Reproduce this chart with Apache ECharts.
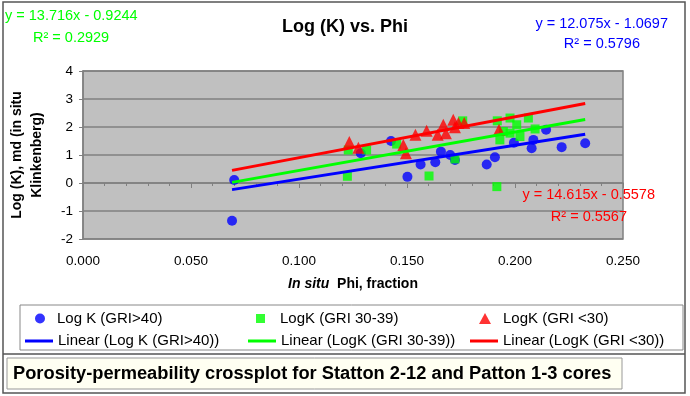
<!DOCTYPE html>
<html>
<head>
<meta charset="utf-8">
<script src="https://cdn.jsdelivr.net/npm/echarts@6/dist/echarts.min.js"></script>
<style>
  html, body { margin: 0; padding: 0; background: #fff; }
  #chart { width: 690px; height: 396px; }
</style>
</head>
<body>
<div id="chart"></div>
<script>
// phi (fraction), log K (md)
const griHigh = [
  [0.069, -1.35], [0.070, 0.11], [0.1286, 1.06], [0.1426, 1.50], [0.1502, 0.22],
  [0.1563, 0.66], [0.1631, 0.74], [0.1657, 1.12], [0.170, 1.00], [0.1722, 0.82],
  [0.1869, 0.66], [0.1907, 0.92], [0.1995, 1.44], [0.2077, 1.24], [0.2085, 1.54],
  [0.2144, 1.90], [0.2216, 1.28], [0.2325, 1.42]
];
const griMid = [
  [0.1224, 0.24], [0.1228, 1.18], [0.1313, 1.18], [0.1452, 1.39], [0.1602, 0.25],
  [0.1722, 0.86], [0.1758, 2.22], [0.1916, -0.13], [0.1918, 2.22], [0.1930, 1.54],
  [0.1946, 1.84], [0.1977, 2.32], [0.1977, 1.78], [0.2008, 2.08], [0.2023, 1.66],
  [0.2062, 2.32], [0.2093, 1.93]
];
const griLow = [
  [0.1233, 1.46], [0.1275, 1.26], [0.1483, 1.36], [0.1495, 1.06], [0.1539, 1.72],
  [0.1591, 1.87], [0.1642, 1.72], [0.1668, 2.08], [0.1680, 1.78], [0.1714, 2.26],
  [0.1722, 1.99], [0.1738, 2.14], [0.1765, 2.14], [0.1926, 1.90]
];

// trendline end points
const trendHigh = [[0.069, -0.237], [0.2325, 1.738]];
const trendMid = [[0.069, 0.022], [0.2325, 2.265]];
const trendLow = [[0.069, 0.451], [0.2325, 2.840]];

const seriesNames = ["Log K (GRI>40)", "LogK (GRI 30-39)", "LogK (GRI <30)"];
const trendNames = ["Linear (Log K (GRI>40))", "Linear (LogK (GRI 30-39))", "Linear (LogK (GRI <30))"];
const xTicks = [0, 0.05, 0.1, 0.15, 0.2, 0.25];
const yTicks = [-2, -1, 0, 1, 2, 3, 4];

const FONT = "Liberation Sans";
const BLUE = "#0000ff";
const GREEN = "#00ff00";
const RED = "#ff0000";

const chart = echarts.init(document.getElementById("chart"));

function legendItem(name, left, top, w, h, pad, icon) {
  const item = {
    data: [name],
    left: left,
    top: top,
    itemWidth: w,
    itemHeight: h,
    padding: 0,
    selectedMode: false,
    textStyle: {
      fontFamily: FONT,
      fontSize: 15,
      color: "#000",
      padding: [0, 0, 0, pad]
    }
  };
  if (icon) item.icon = icon;
  return item;
}

function eqText(text, x, y, color, align) {
  return {
    type: "text",
    z: 50,
    x: x,
    y: y,
    style: {
      text: text,
      fill: color,
      font: "14.5px " + FONT,
      align: align,
      verticalAlign: "middle"
    }
  };
}

const option = {
  animation: false,
  backgroundColor: "#fff",
  title: {
    text: "Log (K) vs. Phi",
    left: "center",
    top: 13,
    textStyle: { fontFamily: FONT, fontSize: 18, fontWeight: "bold", color: "#000" }
  },
  grid: {
    left: 83,
    right: 67,
    top: 71,
    bottom: 157,
    outerBoundsMode: "none",
    containLabel: false,
    show: true,
    backgroundColor: "#c0c0c0",
    borderColor: "#808080",
    borderWidth: 1.5
  },
  xAxis: {
    type: "value",
    min: xTicks[0],
    max: xTicks[xTicks.length - 1],
    interval: 0.05,
    name: "{i|In situ}{b|  Phi, fraction}",
    nameLocation: "middle",
    nameGap: 38,
    nameTextStyle: {
      rich: {
        i: { fontFamily: FONT, fontSize: 14, fontWeight: "bold", fontStyle: "italic", color: "#000" },
        b: { fontFamily: FONT, fontSize: 14, fontWeight: "bold", color: "#000" }
      }
    },
    axisLine: { lineStyle: { color: "#808080", width: 1.5 } },
    axisTick: { length: 5, lineStyle: { color: "#808080" } },
    minorTick: { show: true, splitNumber: 5, length: 3, lineStyle: { color: "#808080" } },
    splitLine: { show: false },
    axisLabel: {
      margin: 15,
      fontFamily: FONT,
      fontSize: 13.5,
      color: "#000",
      formatter: (v) => v.toFixed(3)
    }
  },
  yAxis: {
    type: "value",
    min: yTicks[0],
    max: yTicks[yTicks.length - 1],
    interval: 1,
    name: "Log (K), md (in situ\nKlinkenberg)",
    nameLocation: "middle",
    nameRotate: 90,
    nameGap: 36,
    nameTextStyle: { fontFamily: FONT, fontSize: 14, fontWeight: "bold", color: "#000", lineHeight: 20 },
    axisLine: { show: true, lineStyle: { color: "#808080", width: 1.5 } },
    axisTick: { show: true, length: 4, lineStyle: { color: "#808080" } },
    splitLine: { lineStyle: { color: "#808080", width: 1.5 } },
    axisLabel: { margin: 10, fontFamily: FONT, fontSize: 13.5, color: "#000" }
  },
  legend: [
    legendItem(seriesNames[0], 35, 311, 10, 10, 7),
    legendItem(seriesNames[1], 256, 311, 9, 9, 10),
    legendItem(seriesNames[2], 479, 311, 12, 11, 7),
    legendItem(trendNames[0], 25, 333.5, 28, 3, 0, "rect"),
    legendItem(trendNames[1], 248, 333.5, 28, 3, 0, "rect"),
    legendItem(trendNames[2], 470, 333.5, 28, 3, 0, "rect")
  ],
  graphic: [
    { type: "rect", z: -10, shape: { x: 3, y: 2, width: 682, height: 391 },
      style: { fill: null, stroke: "#555", lineWidth: 1.5 } },
    { type: "line", z: -10, shape: { x1: 3, y1: 354, x2: 685, y2: 354 },
      style: { stroke: "#555", lineWidth: 1.5 } },
    { type: "rect", z: -10, shape: { x: 20, y: 305, width: 663, height: 45 },
      style: { fill: "#fff", stroke: "#888", lineWidth: 1 } },
    { type: "rect", z: -10, shape: { x: 7, y: 358, width: 615, height: 31 },
      style: { fill: "#fffff2", stroke: "#999", lineWidth: 1 } },
    { type: "text", z: 50, x: 13, y: 374,
      style: { text: "Porosity-permeability crossplot for Statton 2-12 and Patton 1-3 cores",
        font: "bold 18.3px " + FONT, fill: "#000", verticalAlign: "middle" } },
    eqText("y = 13.716x - 0.9244", 5, 16, GREEN, "left"),
    eqText("R² = 0.2929", 33, 38, GREEN, "left"),
    eqText("y = 12.075x - 1.0697", 668, 24, BLUE, "right"),
    eqText("R² = 0.5796", 640, 44, BLUE, "right"),
    eqText("y = 14.615x - 0.5578", 655, 195, RED, "right"),
    eqText("R² = 0.5567", 627, 217, RED, "right")
  ],
  series: [
    { name: seriesNames[0], type: "scatter", data: griHigh, symbol: "circle", symbolSize: 10,
      itemStyle: { color: BLUE }, z: 2 },
    { name: seriesNames[1], type: "scatter", data: griMid, symbol: "rect", symbolSize: 9,
      itemStyle: { color: GREEN }, z: 2 },
    { name: seriesNames[2], type: "scatter", data: griLow, symbol: "triangle", symbolSize: 12,
      itemStyle: { color: RED }, z: 2 },
    { name: trendNames[0], type: "line", data: trendHigh, symbol: "none",
      lineStyle: { color: BLUE, width: 3 }, itemStyle: { color: BLUE }, z: 3 },
    { name: trendNames[1], type: "line", data: trendMid, symbol: "none",
      lineStyle: { color: GREEN, width: 3 }, itemStyle: { color: GREEN }, z: 3 },
    { name: trendNames[2], type: "line", data: trendLow, symbol: "none",
      lineStyle: { color: RED, width: 3 }, itemStyle: { color: RED }, z: 3 }
  ]
};

chart.setOption(option);
</script>
</body>
</html>
